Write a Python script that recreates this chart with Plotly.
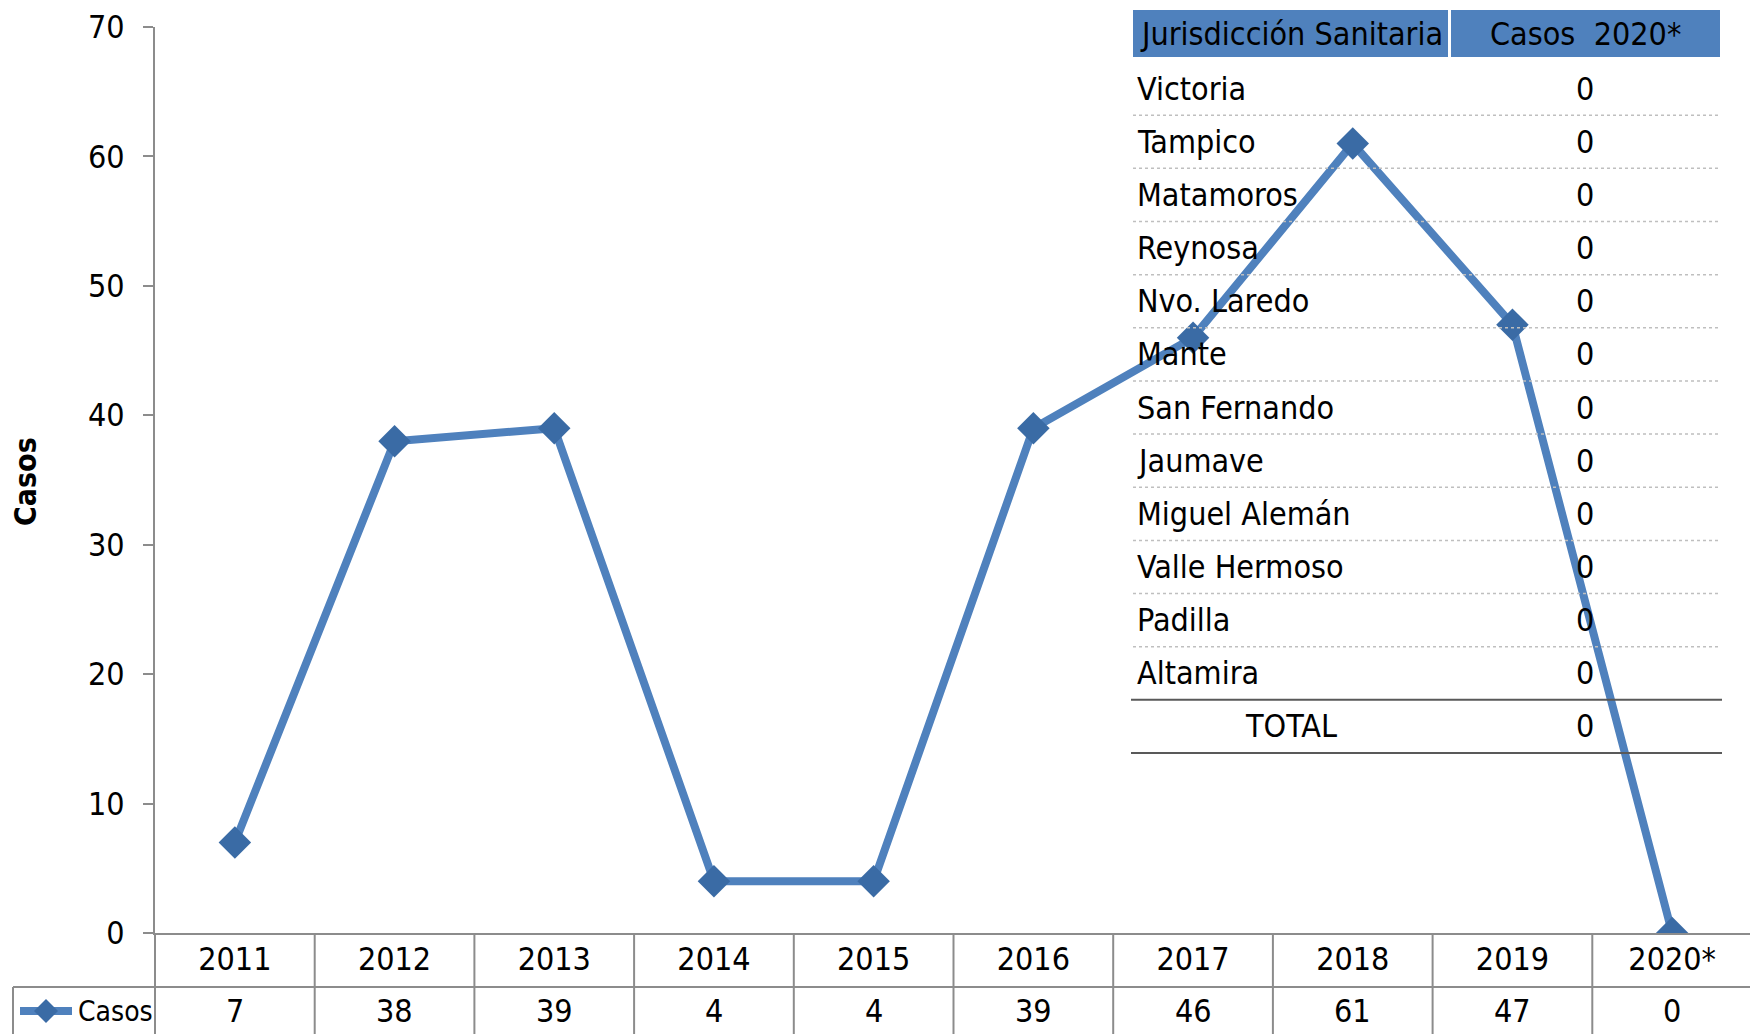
import plotly.graph_objects as go

YEARS = ["2011", "2012", "2013", "2014", "2015", "2016", "2017", "2018", "2019", "2020*"]
CASOS = [7, 38, 39, 4, 4, 39, 46, 61, 47, 0]
JURIS = ["Victoria", "Tampico", "Matamoros", "Reynosa", "Nvo. Laredo", "Mante",
         "San Fernando", "Jaumave", "Miguel Alemán", "Valle Hermoso", "Padilla", "Altamira"]
JURIS_CASOS = [0, 0, 0, 0, 0, 0, 0, 0, 0, 0, 0, 0]
TOTAL = 0
Y_TICKS = [0, 10, 20, 30, 40, 50, 60, 70]

# page body has an 8px margin: figure sits at (8, 8) in the window
OFF = 8
W, H = 1758 - OFF, 1034 - OFF
L, T = 155 - OFF, 27 - OFF
PLOT_R, PLOT_B = 1752 - OFF, 933 - OFF
R, B = W - PLOT_R, H - PLOT_B
PW, PH = W - L - R, H - T - B
FONT = "DejaVu Sans Condensed, Liberation Sans Narrow, sans-serif"
FS = 32
BLUE = "#4F81BD"
MBLUE = "#3A6BA5"
GRID = "#8C8C8C"


def px(xwin):
    return (xwin - OFF - L) / PW


def py(ywin):
    return (H - B - (ywin - OFF)) / PH


fig = go.Figure()
fig.add_trace(go.Scatter(
    x=YEARS, y=CASOS, mode="lines+markers", name="Casos",
    line=dict(color=BLUE, width=8),
    marker=dict(symbol="diamond", size=25, color=MBLUE, line=dict(width=0)),
))

shapes = []
annotations = []

n = len(YEARS)
for k in range(1, n + 1):
    shapes.append(dict(type="line", xref="paper", yref="paper", x0=k / n, x1=k / n,
                       y0=0, y1=py(1040), line=dict(color=GRID, width=2), layer="above"))
shapes.append(dict(type="line", xref="paper", yref="paper", x0=0, x1=0,
                   y0=0, y1=py(1040), line=dict(color=GRID, width=2), layer="above"))
shapes.append(dict(type="line", xref="paper", yref="paper", x0=px(13), x1=1,
                   y0=py(987), y1=py(987), line=dict(color=GRID, width=2), layer="above"))
shapes.append(dict(type="line", xref="paper", yref="paper", x0=px(13), x1=px(13),
                   y0=py(987), y1=py(1040), line=dict(color=GRID, width=2), layer="above"))

for i, v in enumerate(CASOS):
    annotations.append(dict(x=i, xref="x", y=py(1011), yref="paper", text=str(v),
                            showarrow=False, font=dict(family=FONT, size=FS, color="black"),
                            xanchor="center", yanchor="middle"))

# legend cell
shapes.append(dict(type="line", xref="paper", yref="paper", x0=px(20), x1=px(72),
                   y0=py(1011), y1=py(1011), line=dict(color=BLUE, width=8), layer="above"))
cx, cy, d = 46, 1011, 12
shapes.append(dict(type="path", xref="paper", yref="paper",
                   path=f"M {px(cx)} {py(cy-d)} L {px(cx+d)} {py(cy)} L {px(cx)} {py(cy+d)} L {px(cx-d)} {py(cy)} Z",
                   fillcolor=MBLUE, line=dict(width=0), layer="above"))
annotations.append(dict(x=px(76), xref="paper", y=py(1011), yref="paper", text="Casos",
                        showarrow=False, font=dict(family=FONT, size=28, color="black"),
                        xanchor="left", yanchor="middle"))

# y-axis title
annotations.append(dict(x=px(25), xref="paper", y=py(482), yref="paper", text="<b>Casos</b>",
                        textangle=-90, showarrow=False,
                        font=dict(family=FONT, size=30, color="black"),
                        xanchor="center", yanchor="middle"))

# inset table
TX0, TX1, TXM = 1133, 1720, 1449
shapes.append(dict(type="rect", xref="paper", yref="paper", x0=px(TX0), x1=px(TXM - 1),
                   y0=py(57), y1=py(10), fillcolor=BLUE, line=dict(width=0), layer="above"))
shapes.append(dict(type="rect", xref="paper", yref="paper", x0=px(TXM + 2), x1=px(TX1),
                   y0=py(57), y1=py(10), fillcolor=BLUE, line=dict(width=0), layer="above"))
annotations.append(dict(x=px((TX0 + TXM) / 2), xref="paper", y=py(34), yref="paper",
                        text="Jurisdicción Sanitaria", showarrow=False,
                        font=dict(family=FONT, size=FS, color="black"),
                        xanchor="center", yanchor="middle"))
annotations.append(dict(x=px(1585), xref="paper", y=py(34), yref="paper",
                        text="Casos  2020*", showarrow=False,
                        font=dict(family=FONT, size=FS, color="black"),
                        xanchor="center", yanchor="middle"))

ROW0, ROWH = 88.6, 53.15
for i, (name, v) in enumerate(zip(JURIS, JURIS_CASOS)):
    yc = ROW0 + ROWH * i
    annotations.append(dict(x=px(1135), xref="paper", y=py(yc), yref="paper", text=name,
                            showarrow=False, font=dict(family=FONT, size=FS, color="black"),
                            xanchor="left", yanchor="middle"))
    annotations.append(dict(x=px(1585), xref="paper", y=py(yc), yref="paper", text=str(v),
                            showarrow=False, font=dict(family=FONT, size=FS, color="black"),
                            xanchor="center", yanchor="middle"))
    ysep = yc + ROWH / 2
    if i < len(JURIS) - 1:
        shapes.append(dict(type="line", xref="paper", yref="paper", x0=px(TX0), x1=px(TX1),
                           y0=py(ysep), y1=py(ysep),
                           line=dict(color="#BFBFBF", width=1.5, dash="dot"), layer="above"))
    else:
        shapes.append(dict(type="line", xref="paper", yref="paper", x0=px(1131), x1=px(1722),
                           y0=py(ysep), y1=py(ysep),
                           line=dict(color="#595959", width=2), layer="above"))
yc = ROW0 + ROWH * len(JURIS)
annotations.append(dict(x=px((TX0 + TXM) / 2), xref="paper", y=py(yc), yref="paper", text="TOTAL",
                        showarrow=False, font=dict(family=FONT, size=FS, color="black"),
                        xanchor="center", yanchor="middle"))
annotations.append(dict(x=px(1585), xref="paper", y=py(yc), yref="paper", text=str(TOTAL),
                        showarrow=False, font=dict(family=FONT, size=FS, color="black"),
                        xanchor="center", yanchor="middle"))
ysep = yc + ROWH / 2
shapes.append(dict(type="line", xref="paper", yref="paper", x0=px(1131), x1=px(1722),
                   y0=py(ysep), y1=py(ysep), line=dict(color="#595959", width=2), layer="above"))

fig.update_layout(
    width=W, height=H,
    margin=dict(l=L, r=R, t=T, b=B, pad=0, autoexpand=False),
    paper_bgcolor="white", plot_bgcolor="white",
    showlegend=False,
    font=dict(family=FONT, size=FS, color="black"),
    xaxis=dict(type="category", range=[-0.5, n - 0.5], showgrid=False, zeroline=False,
               showline=True, linecolor=GRID, linewidth=2, ticks="", ticklen=0,
               automargin=False,
               tickfont=dict(family=FONT, size=FS, color="black"), ticklabelstandoff=-3),
    yaxis=dict(range=[0, 70], tickvals=Y_TICKS, showgrid=False, zeroline=False,
               showline=True, linecolor=GRID, linewidth=2, ticks="outside", ticklen=10,
               tickcolor=GRID, tickwidth=2, automargin=False,
               tickfont=dict(family=FONT, size=FS, color="black"), ticklabelstandoff=12),
    shapes=shapes, annotations=annotations,
)
fig.write_html("out.html")
